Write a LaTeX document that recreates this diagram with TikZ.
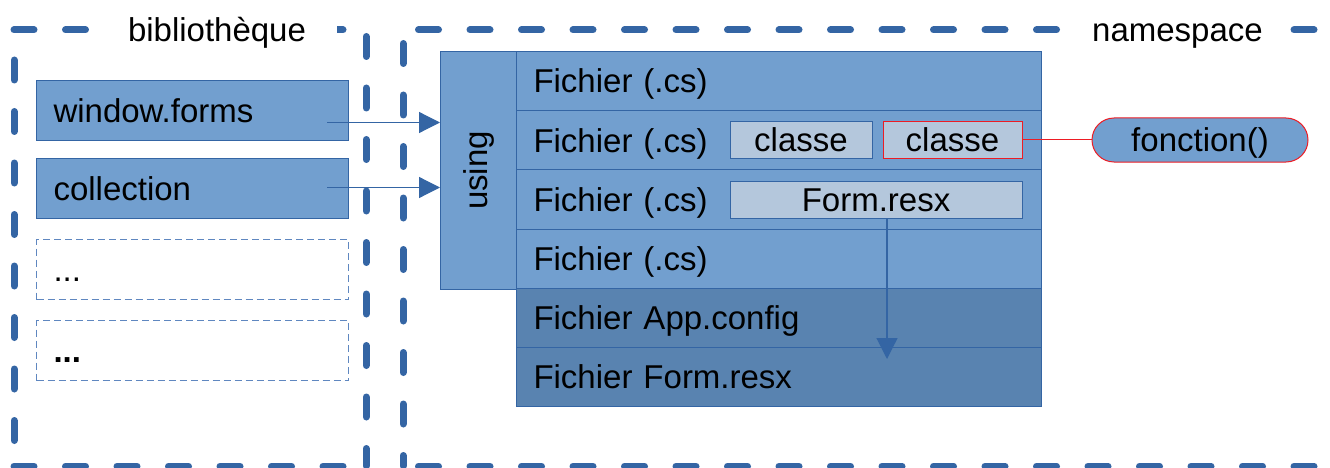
\documentclass[tikz,border=0pt]{standalone}
\usepackage{fontspec}
\setmainfont{Liberation Sans}
\usetikzlibrary{arrows.meta}
\definecolor{bord}{RGB}{52,101,164}
\definecolor{lb}{RGB}{114,159,207}
\definecolor{db}{RGB}{89,131,176}
\definecolor{pale}{RGB}{180,199,220}
\definecolor{rd}{RGB}{237,28,36}
\definecolor{dashb}{RGB}{95,135,192}
\begin{document}
\begin{tikzpicture}[x=1pt,y=-1pt,
  font=\fontsize{33}{40}\selectfont,
  frame/.style={draw=bord, line width=7pt, line cap=round, dash pattern=on 20pt off 31.5pt},
  flabel/.style={fill=white, inner xsep=31pt, inner ysep=4pt, text height=23.6pt, text depth=0pt},
  lbox/.style={draw=bord, line width=1pt, fill=lb, text width=278pt, inner xsep=17pt, inner ysep=0pt,
    minimum height=60pt, align=left, text height=23.6pt, text depth=0pt, anchor=north west},
  dbox/.style={lbox, draw=dashb, fill=none, line width=1.1pt, dash pattern=on 7pt off 4pt},
  rowbox/.style={draw=bord, line width=1pt, fill=lb, text width=491pt, inner xsep=17pt, inner ysep=0pt,
    minimum height=59.2pt, align=left, text height=23.6pt, text depth=0pt, anchor=north west},
  darkrow/.style={rowbox, fill=db},
  inbox/.style={draw=bord, line width=1pt, fill=pale, inner sep=0pt, minimum height=36pt,
    text height=23.6pt, text depth=0pt},
  conn/.style={draw=bord, line width=1.2pt, -{Triangle[length=21pt,width=21pt]}},
  redline/.style={draw=rd, line width=1pt}
]
\useasboundingbox (0,0) rectangle (1330,468);

% frames
\draw[frame] (14,30) -- (366,30);
\draw[frame, dash phase=21.5pt] (14,30) -- (14,466);
\draw[frame, dash phase=45pt] (366,30) -- (366,466);
\draw[frame] (14,466) -- (366,466);
\draw[frame, dash phase=36pt] (403,30) -- (1345,30);
\draw[frame, dash phase=38pt] (403,30) -- (403,466);
\draw[frame, dash phase=36pt] (403,466) -- (1345,466);
\node[flabel] (bl) at (217,30) {bibliothèque};
\node[flabel, inner xsep=27pt] (nl) at (1177.5,30) {namespace};

% left boxes
\node[lbox] (wf) at (36,80) {window.forms};
\node[lbox] (col) at (36,158) {collection};
\node[dbox] (d1) at (36,239) {...};
\node[dbox] (d2) at (36,320) {\bfseries ...};

% using
\node[draw=bord, line width=1pt, fill=lb, minimum width=76pt, minimum height=238pt, anchor=north west] (us) at (440,51) {};
\node[rotate=90, inner sep=0pt, text height=17pt, text depth=0pt] (ut) at (us.center) {using};

% rows
\node[rowbox] (r1) at (516,51) {Fichier (.cs)};
\node[rowbox] (r2) at (516,110.2) {Fichier (.cs)};
\node[rowbox] (r3) at (516,169.4) {Fichier (.cs)};
\node[rowbox] (r4) at (516,228.6) {Fichier (.cs)};
\node[darkrow] (r5) at (516,287.8) {Fichier App.config};
\node[darkrow] (r6) at (516,347) {Fichier Form.resx};

% inner boxes
\node[inbox, minimum width=142pt] (c1) at (801,140) {classe};
\node[inbox, draw=rd, minimum width=139pt] (c2) at (952.5,140) {classe};
\node[inbox, minimum width=292pt, minimum height=37pt] (fr) at (876,199.5) {Form.resx};

% fonction
\node[draw=rd, line width=1pt, fill=lb, rounded corners=22pt, minimum width=216pt, minimum height=44pt,
  inner sep=0pt, text height=23.6pt, text depth=0pt] (fn) at (1200,140) {fonction()};

% connectors
\draw[redline] (c2.east) -- (fn.west);
\coordinate (a1) at ([xshift=-22pt,yshift=-12pt]wf.east);
\coordinate (a2) at ([xshift=-22pt,yshift=1pt]col.east);
\draw[conn] (a1) -- (a1 -| us.west);
\draw[conn] (a2) -- (a2 -| us.west);
\coordinate (fo) at ([xshift=11pt]fr.south);
\coordinate (tip) at (887,359);
\draw[conn] (fo) -- (tip);
\end{tikzpicture}
\end{document}
